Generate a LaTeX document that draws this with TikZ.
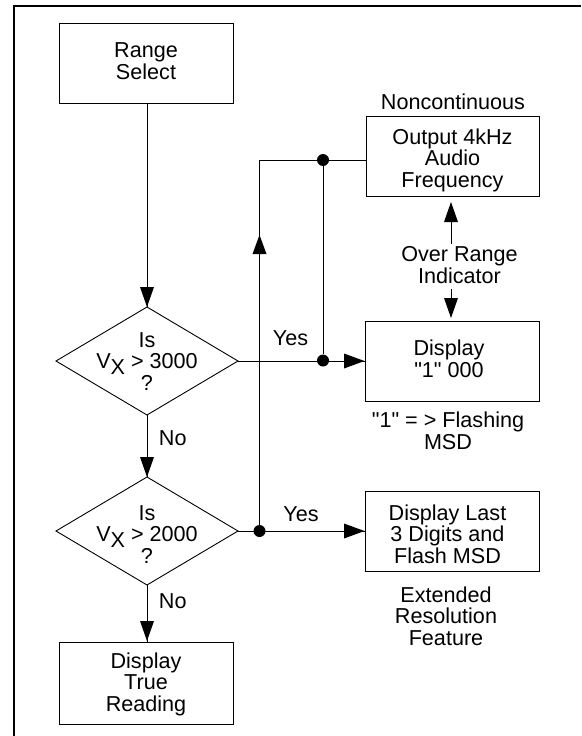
\documentclass[tikz,border=0pt]{standalone}
\usepackage{fontspec}
\setmainfont{Liberation Sans}[Ligatures=TeXOff]
\newcommand{\fsz}{\fontsize{21.6}{21.5}\selectfont}
\newcommand{\vx}{V\raisebox{-0.27em}{X}}
\newcommand{\lft}[2]{\mbox{#2\kern#1pt}}
\tikzset{
  every picture/.style={x=1pt,y=-1pt},
  boxn/.style={draw=black,line width=0.9pt,align=center,inner sep=0pt,font=\fsz},
  dec/.style={draw=black,line width=0.9pt,fill=white},
  lbl/.style={align=center,inner sep=0pt,font=\fsz,text height=0pt,text depth=0pt},
  conn/.style={draw=black,line width=0.9pt},
  dot/.style={circle,fill=black,inner sep=0pt,minimum size=12pt},
}
\begin{document}
\begin{tikzpicture}
\useasboundingbox (0,0) rectangle (581,736);
\draw[line width=2pt] (14,736) -- (14,6) -- (581,6);
% boxes
\node[boxn,minimum width=174pt,minimum height=80pt,text height=40pt,text depth=8pt] (range) at (146,63) {Range\\Select};
\node[boxn,minimum width=174pt,minimum height=82pt,text height=60pt,text depth=4pt] (true) at (146,683) {Display\\True\\Reading};
\node[boxn,minimum width=173pt,minimum height=80pt,text height=66pt,text depth=4pt] (audio) at (452.5,156) {Output 4kHz\\Audio\\Frequency};
\node[boxn,minimum width=174pt,minimum height=80pt,text height=40pt,text depth=8pt] (disp) at (452,361) {\lft{6}{Display}\\\lft{6}{"1" 000}};
\node[boxn,minimum width=174pt,minimum height=80pt,text height=66pt,text depth=2pt] (last) at (452,531) {\lft{9}{Display Last}\\\lft{9}{3 Digits and}\\\lft{9}{Flash MSD}};
% decisions
\draw[dec] (147,307) -- (238,361) -- (147,415) -- (56,361) -- cycle;
\draw[dec] (147,477) -- (238,531) -- (147,585) -- (56,531) -- cycle;
\node[lbl] (d1) at (147,390) {Is\\\vx{} > 3000\\?};
\node[lbl] (d2) at (147,563) {Is\\\vx{} > 2000\\?};
% junctions
\node[dot] (j1) at (323,160) {};
\node[dot] (j2) at (323,360.5) {};
\node[dot] (j3) at (259.5,531) {};
\coordinate (c1) at (259.5,160);
\coordinate (d1r) at (238,361);
\coordinate (d2r) at (238,531);
\coordinate (d1t) at (147,307);
\coordinate (d1b) at (147,415);
\coordinate (d2t) at (147,477);
\coordinate (d2b) at (147,585);
% connectors
\draw[conn] (range.south -| d1t) -- (d1t);
\fill (140,287) -- (147,307) -- (154,287) -- cycle;
\draw[conn] (d1b) -- (d2t);
\fill (140,457) -- (147,477) -- (154,457) -- cycle;
\draw[conn] (d2b) -- (true.north -| d2b);
\fill (140,621) -- (147,641) -- (154,621) -- cycle;
\draw[conn] (d1r) -- (disp.west |- d1r);
\fill (344,353.5) -- (364.5,361) -- (344,368.5) -- cycle;
\draw[conn] (d2r) -- (last.west);
\fill (344,523.5) -- (364.5,531) -- (344,538.5) -- cycle;
\draw[conn] (j3) -- (c1) -- (audio.west |- c1);
\fill (252.5,254) -- (259.5,235) -- (266.5,254) -- cycle;
\draw[conn] (j1) -- (j2);
% over range
\coordinate (oru1) at (451,222);
\coordinate (oru2) at (451,244);
\coordinate (ord1) at (451,289);
\coordinate (ord2) at (451,300);
\draw[conn] (oru1) -- (oru2);
\fill (444,222) -- (451,202) -- (458,222) -- cycle;
\draw[conn] (ord1) -- (ord2);
\fill (444,298) -- (451,318) -- (458,298) -- cycle;
% labels
\node[lbl] (n1) at (453,109) {Noncontinuous};
\node[lbl] (n2) at (459.5,283) {Over Range\\Indicator};
\node[lbl] (n3) at (448,449) {"1" = > Flashing\\MSD};
\node[lbl] (n4) at (446,645) {Extended\\Resolution\\Feature};
\node[lbl] (y1) at (290.5,345) {Yes};
\node[lbl] (y2) at (301,521) {Yes};
\node[lbl] (no1) at (172.8,445) {No};
\node[lbl] (no2) at (172.8,608) {No};
\end{tikzpicture}
\end{document}
